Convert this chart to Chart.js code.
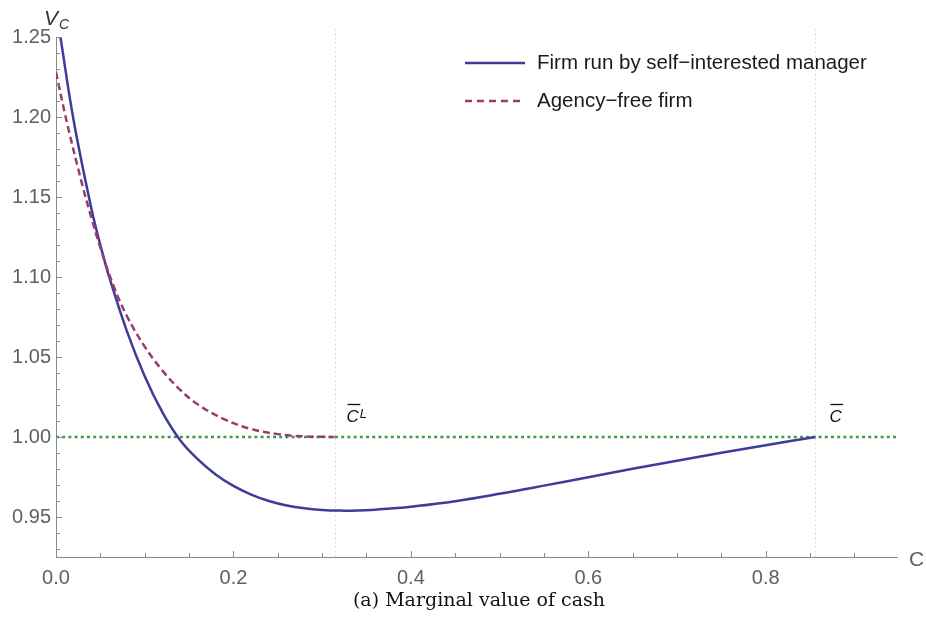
<!DOCTYPE html>
<html>
<head>
<meta charset="utf-8">
<script src="https://cdn.jsdelivr.net/npm/chart.js@4.4.0/dist/chart.umd.min.js"></script>
<style>
  html, body { margin: 0; padding: 0; background: #fff; }
</style>
</head>
<body>
<canvas id="chart" width="926" height="621"></canvas>
<script>
// Values
const managerC = [0.005, 0.02, 0.04, 0.05, 0.06, 0.08, 0.10, 0.12, 0.14, 0.16, 0.18, 0.20, 0.22, 0.24, 0.26, 0.28, 0.30, 0.32, 0.34, 0.36, 0.38, 0.40, 0.45, 0.50, 0.55, 0.60, 0.65, 0.70, 0.75, 0.80, 0.856];
const managerV = [1.250, 1.1975, 1.1425, 1.120, 1.100, 1.066, 1.038, 1.0154, 0.998, 0.986, 0.9766, 0.9694, 0.964, 0.960, 0.9572, 0.9554, 0.9544, 0.954, 0.9541, 0.9546, 0.9554, 0.9564, 0.9599, 0.9645, 0.9696, 0.9749, 0.9801, 0.9852, 0.9901, 0.9949, 1.000];

const agencyC = [0, 0.012, 0.03, 0.04, 0.05, 0.065, 0.08, 0.10, 0.12, 0.14, 0.16, 0.19, 0.22, 0.25, 0.28, 0.314];
const agencyV = [1.228, 1.1973, 1.1568, 1.1368, 1.1183, 1.0943, 1.0755, 1.0565, 1.0415, 1.0295, 1.0203, 1.011, 1.005, 1.0018, 1.0004, 1.000];

const seriesNames = ['Firm run by self\u2212interested manager', 'Agency\u2212free firm'];
const refLevel = 1.00;     // green dotted line
const cBarL = 0.314;       // agency-free payout boundary
const cBar = 0.856;        // manager payout boundary

const xTicks = [0, 0.2, 0.4, 0.6, 0.8];
const yTicks = [0.95, 1.00, 1.05, 1.10, 1.15, 1.20, 1.25];
const xRange = [0, 0.948];
const yRange = [0.925, 1.25];

const blue = '#3d3d99';
const purple = '#993d70';
const green = '#3f9a4a';
const axisGray = '#8a8a8a';
const labelGray = '#606060';
const sans = '"Liberation Sans", Arial, sans-serif';

function toPoints(xs, ys) {
    return xs.map((v, i) => ({ x: v, y: ys[i] }));
}

// ticks pointing inward, minor ones too, plus the text labels
const decor = {
    id: 'decor',
    beforeDatasetsDraw(chart) {
        const { ctx, chartArea: a, scales: { x } } = chart;
        ctx.save();
        ctx.strokeStyle = '#d4d4d4';
        ctx.lineWidth = 1;
        ctx.setLineDash([1.5, 3]);
        [cBarL, cBar].forEach(v => {
            const px = Math.round(x.getPixelForValue(v)) + 0.5;
            ctx.beginPath();
            ctx.moveTo(px, a.top - 8);
            ctx.lineTo(px, a.bottom);
            ctx.stroke();
        });
        ctx.restore();
    },
    afterDraw(chart) {
        const { ctx, chartArea: a, scales: { x, y } } = chart;
        ctx.save();
        ctx.strokeStyle = axisGray;
        ctx.lineWidth = 1;

        // y ticks every 0.01
        for (let i = 93; i <= 125; i++) {
            const py = Math.round(y.getPixelForValue(i / 100)) + 0.5;
            const len = i % 5 === 0 ? 6 : 4;
            ctx.beginPath();
            ctx.moveTo(a.left, py);
            ctx.lineTo(a.left + len, py);
            ctx.stroke();
        }
        // x ticks every 0.05
        for (let i = 1; i <= 18; i++) {
            const px = Math.round(x.getPixelForValue(i * 0.05)) + 0.5;
            const len = i % 4 === 0 ? 6 : 4;
            ctx.beginPath();
            ctx.moveTo(px, a.bottom);
            ctx.lineTo(px, a.bottom - len);
            ctx.stroke();
        }

        // legend
        const lx = 465, lw = 60;
        const rows = [{ y: 63, color: blue, dash: [] }, { y: 101, color: purple, dash: [7, 5] }];
        rows.forEach((r, i) => {
            ctx.strokeStyle = r.color;
            ctx.lineWidth = 2.5;
            ctx.setLineDash(r.dash);
            ctx.beginPath();
            ctx.moveTo(lx, r.y);
            ctx.lineTo(lx + lw, r.y);
            ctx.stroke();
            ctx.setLineDash([]);
            ctx.fillStyle = '#1a1a1a';
            ctx.font = '20.5px ' + sans;
            ctx.textBaseline = 'middle';
            ctx.textAlign = 'left';
            ctx.fillText(seriesNames[i], lx + 72, r.y);
        });

        // C-bar labels
        ctx.textBaseline = 'alphabetic';
        ctx.fillStyle = '#111';
        const baseY = y.getPixelForValue(refLevel) - 15;
        function barC(px, sup) {
            ctx.font = 'italic 17px ' + sans;
            ctx.fillText('C', px, baseY);
            const w = ctx.measureText('C').width;
            ctx.strokeStyle = '#111';
            ctx.lineWidth = 1.3;
            ctx.beginPath();
            ctx.moveTo(px + 1, baseY - 17.5);
            ctx.lineTo(px + w + 1.5, baseY - 17.5);
            ctx.stroke();
            if (sup) {
                ctx.font = 'italic 13px ' + sans;
                ctx.fillText(sup, px + w + 1, baseY - 4);
            }
        }
        barC(x.getPixelForValue(cBarL) + 12, 'L');
        barC(x.getPixelForValue(cBar) + 14, '');

        // axis titles
        ctx.fillStyle = '#333';
        ctx.font = 'italic 21px ' + sans;
        ctx.fillText('V', 44, 25);
        ctx.font = 'italic 14px ' + sans;
        ctx.fillText('C', 59, 29);
        ctx.fillStyle = labelGray;
        ctx.font = '21px ' + sans;
        ctx.fillText('C', 909, 566);

        // caption
        ctx.fillStyle = '#111';
        ctx.font = '19px "DejaVu Serif", serif';
        ctx.textAlign = 'center';
        ctx.fillText('(a) Marginal value of cash', 479, 606);
        ctx.restore();
    }
};

const chart = new Chart(document.getElementById('chart'), {
    type: 'scatter',
    data: {
        datasets: [
            {
                label: seriesNames[0],
                data: toPoints(managerC, managerV),
                showLine: true,
                borderColor: blue,
                borderWidth: 2.5,
                pointRadius: 0,
                tension: 0.4,
                order: 1
            },
            {
                label: seriesNames[1],
                data: toPoints(agencyC, agencyV),
                showLine: true,
                borderColor: purple,
                borderWidth: 2.5,
                borderDash: [7, 4],
                pointRadius: 0,
                tension: 0.4,
                order: 0
            },
            {
                label: 'level',
                data: [{ x: xRange[0], y: refLevel }, { x: xRange[1], y: refLevel }],
                showLine: true,
                borderColor: green,
                borderWidth: 2.5,
                borderDash: [3, 3.2],
                pointRadius: 0,
                order: 2
            }
        ]
    },
    options: {
        responsive: false,
        animation: false,
        devicePixelRatio: 1,
        layout: { padding: { left: 0, top: 37, right: 29, bottom: 0 } },
        plugins: {
            legend: { display: false },
            tooltip: { enabled: false }
        },
        scales: {
            x: {
                type: 'linear',
                min: xRange[0],
                max: xRange[1],
                afterBuildTicks: s => { s.ticks = xTicks.map(v => ({ value: v })); },
                afterFit: s => { s.height = 64; },
                grid: { display: false, drawTicks: false },
                border: { display: true, color: axisGray, width: 1 },
                ticks: {
                    padding: 9,
                    color: labelGray,
                    font: { family: sans, size: 20 },
                    callback: v => v.toFixed(1)
                }
            },
            y: {
                type: 'linear',
                min: yRange[0],
                max: yRange[1],
                afterBuildTicks: s => { s.ticks = yTicks.map(v => ({ value: v })); },
                afterFit: s => { s.width = 56; },
                grid: { display: false, drawTicks: false },
                border: { display: true, color: axisGray, width: 1 },
                ticks: {
                    padding: 5,
                    color: labelGray,
                    font: { family: sans, size: 20 },
                    callback: v => v.toFixed(2)
                }
            }
        }
    },
    plugins: [decor]
});
</script>
</body>
</html>
